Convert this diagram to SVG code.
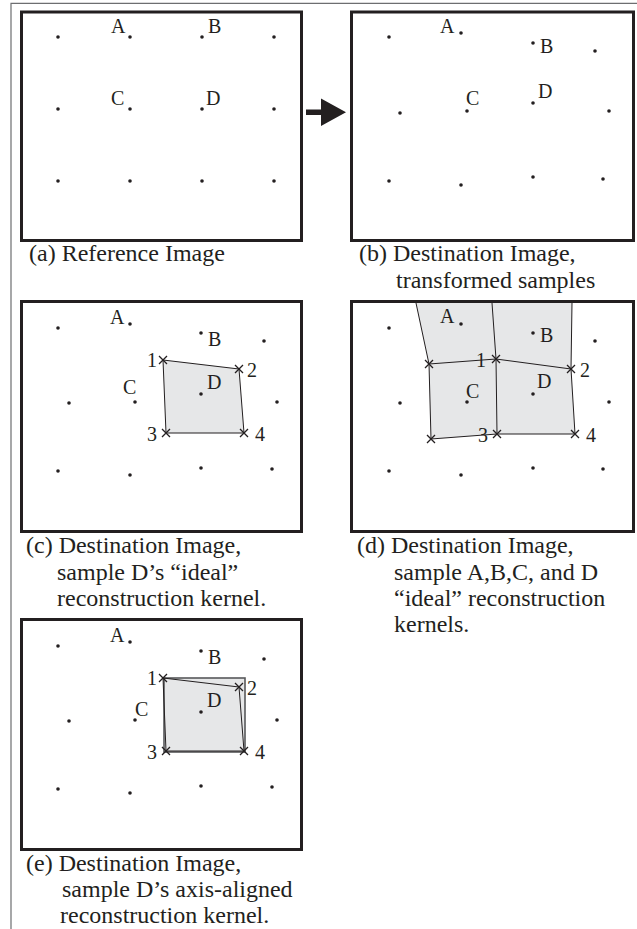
<svg xmlns="http://www.w3.org/2000/svg" xmlns:xlink="http://www.w3.org/1999/xlink" width="637" height="929" viewBox="0 0 637 929">
<style>
  .frame{fill:none;stroke:#6d6e70;stroke-width:1.2}
  .box{fill:#ffffff;stroke:#231f20;stroke-width:3}
  .dot{fill:#231f20}
  .lbl{font-family:"Liberation Serif","Times New Roman",serif;font-size:20px;fill:#231f20}
  .cap{font-family:"Liberation Serif","Times New Roman",serif;font-size:24px;fill:#231f20}
  .kern{fill:#e6e7e8;stroke:#231f20;stroke-width:1}
  .kline{fill:none;stroke:#231f20;stroke-width:1}
  .shade{fill:#e6e7e8;stroke:none}
  .aabb{fill:#e6e7e8;stroke:#58595b;stroke-width:1.6}
  .xm{fill:none;stroke:#231f20;stroke-width:1.3}
</style>
<defs>
  <circle id="d" r="1.8" class="dot"/>
  <path id="x" class="xm" d="M-4,-4L4,4M-4,4L4,-4"/>
</defs>
<rect width="637" height="929" fill="#ffffff"/>
<path class="frame" d="M11,929V3.3H637"/>

<g id="panel-a">
  <rect class="box" x="21.5" y="12" width="280" height="228.5"/>
  <use href="#d" x="58" y="37"/><use href="#d" x="130" y="37"/><use href="#d" x="202" y="37"/><use href="#d" x="274" y="37"/>
  <use href="#d" x="58" y="109"/><use href="#d" x="130" y="109"/><use href="#d" x="202" y="109"/><use href="#d" x="274" y="109"/>
  <use href="#d" x="58" y="181"/><use href="#d" x="130" y="181"/><use href="#d" x="202" y="181"/><use href="#d" x="274" y="181"/>
  <text class="lbl" x="111" y="33">A</text>
  <text class="lbl" x="208" y="33">B</text>
  <text class="lbl" x="111" y="105">C</text>
  <text class="lbl" x="206" y="105">D</text>
  <text class="cap" x="29" y="261">(a) Reference Image</text>
</g>

<g id="panel-b">
  <rect class="box" x="351.5" y="12" width="282" height="228.5"/>
  <use href="#d" x="389" y="37"/><use href="#d" x="461" y="33"/><use href="#d" x="533" y="43"/><use href="#d" x="595" y="51"/>
  <use href="#d" x="400" y="113"/><use href="#d" x="467" y="111"/><use href="#d" x="533" y="103"/><use href="#d" x="609" y="111"/>
  <use href="#d" x="389" y="181"/><use href="#d" x="461" y="185"/><use href="#d" x="533" y="177"/><use href="#d" x="603" y="179"/>
  <text class="lbl" x="440" y="33">A</text>
  <text class="lbl" x="540" y="53">B</text>
  <text class="lbl" x="466" y="105">C</text>
  <text class="lbl" x="538" y="98">D</text>
  <text class="cap" x="359" y="261">(b) Destination Image,</text>
  <text class="cap" x="396" y="288">transformed samples</text>
</g>

<g id="panel-c">
  <rect class="box" x="21.5" y="301.5" width="280" height="230"/>
  <polygon class="kern" points="163,360 239,369 244,433 166,433"/>
  <use href="#d" x="58" y="328"/><use href="#d" x="130" y="324"/><use href="#d" x="201" y="333"/><use href="#d" x="264" y="341"/>
  <use href="#d" x="69" y="403"/><use href="#d" x="135" y="402"/><use href="#d" x="201" y="394"/><use href="#d" x="277" y="402"/>
  <use href="#d" x="58" y="471"/><use href="#d" x="130" y="475"/><use href="#d" x="201" y="468"/><use href="#d" x="272" y="469"/>
  <use href="#x" x="163" y="360"/><use href="#x" x="239" y="369"/><use href="#x" x="166" y="433"/><use href="#x" x="244" y="433"/>
  <text class="lbl" x="110" y="324">A</text>
  <text class="lbl" x="208" y="346">B</text>
  <text class="lbl" x="123" y="394">C</text>
  <text class="lbl" x="207" y="389">D</text>
  <text class="lbl" x="147" y="367">1</text>
  <text class="lbl" x="247" y="377">2</text>
  <text class="lbl" x="147" y="441">3</text>
  <text class="lbl" x="255" y="441">4</text>
  <text class="cap" x="26" y="553">(c) Destination Image,</text>
  <text class="cap" x="57" y="580">sample D’s “ideal”</text>
  <text class="cap" x="57" y="606">reconstruction kernel.</text>
</g>

<g id="panel-d">
  <rect class="box" x="351.5" y="301.5" width="282" height="230"/>
  <polygon class="shade" points="416,303 572,303 571,369 575,434 497,434 431,439 429,364"/>
  <path class="kline" d="M416,303L429,364L431,439M429,364L496,359L571,369M492,303L496,359L497,434M572,303L571,369L575,434M431,439L497,434L575,434"/>
  <use href="#d" x="389" y="328"/><use href="#d" x="461" y="324"/><use href="#d" x="533" y="333"/><use href="#d" x="595" y="341"/>
  <use href="#d" x="400" y="403"/><use href="#d" x="467" y="402"/><use href="#d" x="533" y="394"/><use href="#d" x="609" y="402"/>
  <use href="#d" x="389" y="471"/><use href="#d" x="461" y="475"/><use href="#d" x="533" y="468"/><use href="#d" x="603" y="469"/>
  <use href="#x" x="429" y="364"/><use href="#x" x="496" y="359"/><use href="#x" x="571" y="369"/>
  <use href="#x" x="431" y="439"/><use href="#x" x="497" y="434"/><use href="#x" x="575" y="434"/>
  <text class="lbl" x="440" y="323">A</text>
  <text class="lbl" x="540" y="342">B</text>
  <text class="lbl" x="466" y="398">C</text>
  <text class="lbl" x="537" y="388">D</text>
  <text class="lbl" x="476" y="367">1</text>
  <text class="lbl" x="580" y="377">2</text>
  <text class="lbl" x="478" y="442">3</text>
  <text class="lbl" x="586" y="442">4</text>
  <text class="cap" x="357" y="553">(d) Destination Image,</text>
  <text class="cap" x="394" y="580">sample A,B,C, and D</text>
  <text class="cap" x="394" y="606">“ideal” reconstruction</text>
  <text class="cap" x="394" y="632">kernels.</text>
</g>

<g id="panel-e">
  <rect class="box" x="21.5" y="619.5" width="280" height="230"/>
  <rect class="aabb" x="164" y="678" width="81" height="74"/>
  <polygon class="kline" points="163,678 239,687 244,751 166,751"/>
  <use href="#d" x="58" y="646"/><use href="#d" x="130" y="642"/><use href="#d" x="201" y="651"/><use href="#d" x="264" y="659"/>
  <use href="#d" x="69" y="721"/><use href="#d" x="135" y="720"/><use href="#d" x="201" y="712"/><use href="#d" x="277" y="720"/>
  <use href="#d" x="58" y="789"/><use href="#d" x="130" y="793"/><use href="#d" x="201" y="786"/><use href="#d" x="272" y="787"/>
  <use href="#x" x="163" y="678"/><use href="#x" x="239" y="687"/><use href="#x" x="166" y="751"/><use href="#x" x="244" y="751"/>
  <text class="lbl" x="110" y="642">A</text>
  <text class="lbl" x="208" y="664">B</text>
  <text class="lbl" x="135" y="716">C</text>
  <text class="lbl" x="207" y="707">D</text>
  <text class="lbl" x="147" y="685">1</text>
  <text class="lbl" x="247" y="695">2</text>
  <text class="lbl" x="147" y="759">3</text>
  <text class="lbl" x="255" y="759">4</text>
  <text class="cap" x="26" y="871">(e) Destination Image,</text>
  <text class="cap" x="62" y="897">sample D’s axis-aligned</text>
  <text class="cap" x="60" y="923">reconstruction kernel.</text>
</g>

<g id="connectors">
  <polygon fill="#231f20" points="306,109.5 321,109.5 321,98.5 346,112.3 321,126 321,115 306,115"/>
</g>
</svg>
